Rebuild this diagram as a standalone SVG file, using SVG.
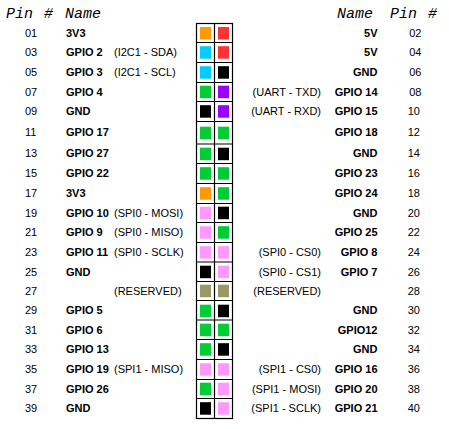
<svg xmlns="http://www.w3.org/2000/svg" width="449" height="429" viewBox="0 0 449 429">
<style>
.hd{font-family:"Liberation Mono","Courier New",monospace;font-style:italic;font-size:15px;fill:#000}
.t{font-family:"Liberation Sans",Arial,sans-serif;font-size:11px;fill:#000}
.b{font-weight:bold}
.e{text-anchor:end}
.g{stroke:#000;stroke-width:1.2;fill:none}
.or{fill:#FF9900}.rd{fill:#FF3333}.cy{fill:#00CCFF}.bk{fill:#000}.gr{fill:#00CC33}.pu{fill:#9900FF}.pk{fill:#FF99FF}.kh{fill:#999966}
</style>
<rect width="449" height="429" fill="#fff"/>
<g id="header">
<text class="hd" x="6" y="18">Pin</text><text class="hd" x="44" y="18">#</text><text class="hd" x="65" y="18">Name</text>
<text class="hd" x="337" y="18">Name</text><text class="hd" x="390" y="18">Pin</text><text class="hd" x="428" y="18">#</text>
</g>
<g id="grid" class="g">
<rect x="196.5" y="23.5" width="36" height="395"/>
<line x1="214.5" y1="23.5" x2="214.5" y2="418.5"/>
<path d="M196.5 42.5H232.5M196.5 62.5H232.5M196.5 82.5H232.5M196.5 101.5H232.5M196.5 121.5H232.5M196.5 144H232.5M196.5 163.5H232.5M196.5 183.5H232.5M196.5 203.5H232.5M196.5 222.5H232.5M196.5 242.5H232.5M196.5 262H232.5M196.5 281.5H232.5M196.5 300.5H232.5M196.5 320H232.5M196.5 339.5H232.5M196.5 359.5H232.5M196.5 379.5H232.5M196.5 398.5H232.5"/>
</g>
<g id="row1"><text class="t" x="25" y="36.5">01</text><text class="t b" x="66" y="36.5">3V3</text><rect class="or" x="200" y="27" width="11" height="12.5"/><rect class="rd" x="218" y="27" width="11" height="12.5"/><text class="t b e" x="377.5" y="36.5">5V</text><text class="t e" x="421.5" y="36.5">02</text></g>
<g id="row2"><text class="t" x="25" y="56">03</text><text class="t b" x="66" y="56">GPIO 2</text><text class="t" x="114" y="56">(I2C1 - SDA)</text><rect class="cy" x="200" y="46.2" width="11" height="12.5"/><rect class="rd" x="218" y="46.2" width="11" height="12.5"/><text class="t b e" x="377.5" y="56">5V</text><text class="t e" x="421.5" y="56">04</text></g>
<g id="row3"><text class="t" x="25" y="76">05</text><text class="t b" x="66" y="76">GPIO 3</text><text class="t" x="114" y="76">(I2C1 - SCL)</text><rect class="cy" x="200" y="66.2" width="11" height="12.5"/><rect class="bk" x="218" y="66.2" width="11" height="12.5"/><text class="t b e" x="377.5" y="76">GND</text><text class="t e" x="421.5" y="76">06</text></g>
<g id="row4"><text class="t" x="25" y="95.5">07</text><text class="t b" x="66" y="95.5">GPIO 4</text><rect class="gr" x="200" y="85.7" width="11" height="12.5"/><rect class="pu" x="218" y="85.7" width="11" height="12.5"/><text class="t e" x="321" y="95.5">(UART - TXD)</text><text class="t b e" x="377.5" y="95.5">GPIO 14</text><text class="t e" x="421.5" y="95.5">08</text></g>
<g id="row5"><text class="t" x="25" y="115">09</text><text class="t b" x="66" y="115">GND</text><rect class="bk" x="200" y="105.2" width="11" height="12.5"/><rect class="pu" x="218" y="105.2" width="11" height="12.5"/><text class="t e" x="321" y="115">(UART - RXD)</text><text class="t b e" x="377.5" y="115">GPIO 15</text><text class="t e" x="420" y="115">10</text></g>
<g id="row6"><text class="t" x="25" y="135.5">11</text><text class="t b" x="66" y="135.5">GPIO 17</text><rect class="gr" x="200" y="126.7" width="11" height="12.5"/><rect class="gr" x="218" y="126.7" width="11" height="12.5"/><text class="t b e" x="377.5" y="135.5">GPIO 18</text><text class="t e" x="420" y="135.5">12</text></g>
<g id="row7"><text class="t" x="25" y="157">13</text><text class="t b" x="66" y="157">GPIO 27</text><rect class="gr" x="200" y="147.7" width="11" height="12.5"/><rect class="bk" x="218" y="147.7" width="11" height="12.5"/><text class="t b e" x="377.5" y="157">GND</text><text class="t e" x="420" y="157">14</text></g>
<g id="row8"><text class="t" x="25" y="177">15</text><text class="t b" x="66" y="177">GPIO 22</text><rect class="gr" x="200" y="167.2" width="11" height="12.5"/><rect class="gr" x="218" y="167.2" width="11" height="12.5"/><text class="t b e" x="377.5" y="177">GPIO 23</text><text class="t e" x="420" y="177">16</text></g>
<g id="row9"><text class="t" x="25" y="197">17</text><text class="t b" x="66" y="197">3V3</text><rect class="or" x="200" y="187.2" width="11" height="12.5"/><rect class="gr" x="218" y="187.2" width="11" height="12.5"/><text class="t b e" x="377.5" y="197">GPIO 24</text><text class="t e" x="420" y="197">18</text></g>
<g id="row10"><text class="t" x="25" y="216.5">19</text><text class="t b" x="66" y="216.5">GPIO 10</text><text class="t" x="114" y="216.5">(SPI0 - MOSI)</text><rect class="pk" x="200" y="206.7" width="11" height="12.5"/><rect class="bk" x="218" y="206.7" width="11" height="12.5"/><text class="t b e" x="377.5" y="216.5">GND</text><text class="t e" x="420" y="216.5">20</text></g>
<g id="row11"><text class="t" x="25" y="236">21</text><text class="t b" x="66" y="236">GPIO 9</text><text class="t" x="114" y="236">(SPI0 - MISO)</text><rect class="pk" x="200" y="226.2" width="11" height="12.5"/><rect class="gr" x="218" y="226.2" width="11" height="12.5"/><text class="t b e" x="377.5" y="236">GPIO 25</text><text class="t e" x="420" y="236">22</text></g>
<g id="row12"><text class="t" x="25" y="256">23</text><text class="t b" x="66" y="256">GPIO 11</text><text class="t" x="114" y="256">(SPI0 - SCLK)</text><rect class="pk" x="200" y="246.2" width="11" height="12.5"/><rect class="pk" x="218" y="246.2" width="11" height="12.5"/><text class="t e" x="321" y="256">(SPI0 - CS0)</text><text class="t b e" x="377.5" y="256">GPIO 8</text><text class="t e" x="420" y="256">24</text></g>
<g id="row13"><text class="t" x="25" y="275.5">25</text><text class="t b" x="66" y="275.5">GND</text><rect class="bk" x="200" y="265.7" width="11" height="12.5"/><rect class="pk" x="218" y="265.7" width="11" height="12.5"/><text class="t e" x="321" y="275.5">(SPI0 - CS1)</text><text class="t b e" x="377.5" y="275.5">GPIO 7</text><text class="t e" x="420" y="275.5">26</text></g>
<g id="row14"><text class="t" x="25" y="294.5">27</text><text class="t" x="114" y="294.5">(RESERVED)</text><rect class="kh" x="200" y="284.7" width="11" height="12.5"/><rect class="kh" x="218" y="284.7" width="11" height="12.5"/><text class="t e" x="321" y="294.5">(RESERVED)</text><text class="t e" x="420" y="294.5">28</text></g>
<g id="row15"><text class="t" x="25" y="314">29</text><text class="t b" x="66" y="314">GPIO 5</text><rect class="gr" x="200" y="304.7" width="11" height="12.5"/><rect class="bk" x="218" y="304.7" width="11" height="12.5"/><text class="t b e" x="377.5" y="314">GND</text><text class="t e" x="420" y="314">30</text></g>
<g id="row16"><text class="t" x="25" y="333.5">31</text><text class="t b" x="66" y="333.5">GPIO 6</text><rect class="gr" x="200" y="323.7" width="11" height="12.5"/><rect class="gr" x="218" y="323.7" width="11" height="12.5"/><text class="t b e" x="377.5" y="333.5">GPIO12</text><text class="t e" x="420" y="333.5">32</text></g>
<g id="row17"><text class="t" x="25" y="353">33</text><text class="t b" x="66" y="353">GPIO 13</text><rect class="gr" x="200" y="343.2" width="11" height="12.5"/><rect class="bk" x="218" y="343.2" width="11" height="12.5"/><text class="t b e" x="377.5" y="353">GND</text><text class="t e" x="420" y="353">34</text></g>
<g id="row18"><text class="t" x="25" y="373">35</text><text class="t b" x="66" y="373">GPIO 19</text><text class="t" x="114" y="373">(SPI1 - MISO)</text><rect class="pk" x="200" y="363.2" width="11" height="12.5"/><rect class="pk" x="218" y="363.2" width="11" height="12.5"/><text class="t e" x="321" y="373">(SPI1 - CS0)</text><text class="t b e" x="377.5" y="373">GPIO 16</text><text class="t e" x="420" y="373">36</text></g>
<g id="row19"><text class="t" x="25" y="392.5">37</text><text class="t b" x="66" y="392.5">GPIO 26</text><rect class="gr" x="200" y="382.7" width="11" height="12.5"/><rect class="pk" x="218" y="382.7" width="11" height="12.5"/><text class="t e" x="321" y="392.5">(SPI1 - MOSI)</text><text class="t b e" x="377.5" y="392.5">GPIO 20</text><text class="t e" x="420" y="392.5">38</text></g>
<g id="row20"><text class="t" x="25" y="412">39</text><text class="t b" x="66" y="412">GND</text><rect class="bk" x="200" y="402.2" width="11" height="12.5"/><rect class="pk" x="218" y="402.2" width="11" height="12.5"/><text class="t e" x="321" y="412">(SPI1 - SCLK)</text><text class="t b e" x="377.5" y="412">GPIO 21</text><text class="t e" x="420" y="412">40</text></g>
</svg>
